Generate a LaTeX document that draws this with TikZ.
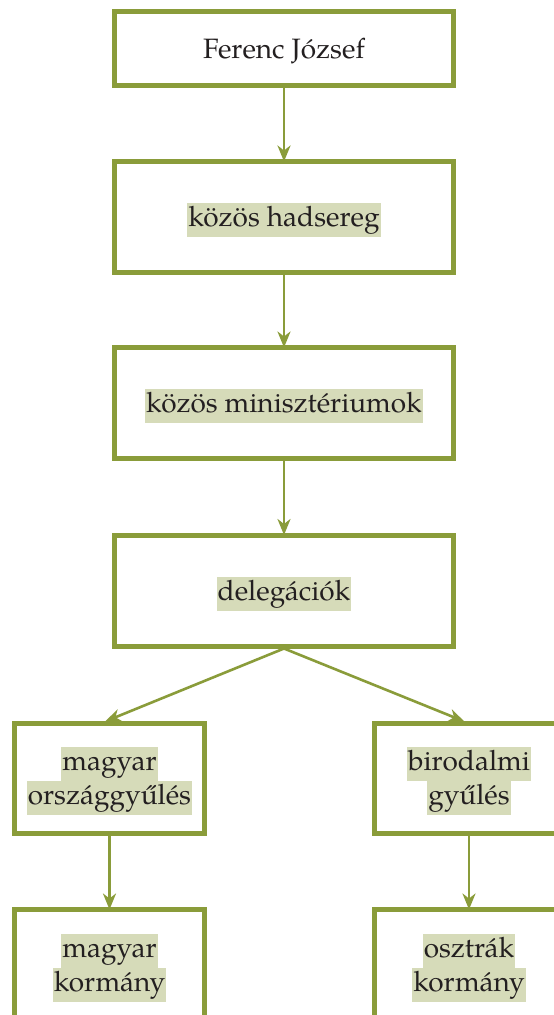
\documentclass[tikz,border=0pt]{standalone}
\usepackage{fontspec}
\setmainfont{TeX Gyre Pagella}
\usetikzlibrary{arrows.meta}
\definecolor{bordc}{HTML}{8A9C3A}
\definecolor{hlc}{HTML}{D6DBB9}
\definecolor{txtc}{HTML}{231F20}
\newcommand{\hlt}[1]{{\setlength{\fboxsep}{0pt}\colorbox{hlc}{\strut\hspace{1pt}#1\hspace{1pt}}}}
\tikzset{
  orgbox/.style={draw=bordc, line width=5pt, fill=white, inner sep=0pt},
  widebox/.style={orgbox, minimum width=339pt, minimum height=111pt},
  smallbox/.style={orgbox, minimum width=190pt, minimum height=110pt},
  boxtext/.style={inner sep=0pt, align=center, text=txtc, font=\fontsize{28}{34}\selectfont},
  conn/.style={draw=bordc, line width=2.6pt, -{Stealth[length=16pt,width=13pt,inset=5pt]}, shorten >=-2.5pt}
}
\begin{document}
\begin{tikzpicture}[x=1pt,y=-1pt]
\clip (0,0) rectangle (554,1015);
\fill[white] (0,0) rectangle (554,1015);
\node[orgbox, minimum width=339pt, minimum height=74pt] (b1) at (284,48.5) {};
\node[widebox] (b2) at (284,217) {};
\node[widebox] (b3) at (284,403) {};
\node[widebox] (b4) at (284,590.5) {};
\node[smallbox] (c1) at (109.5,778) {};
\node[smallbox] (c2) at (469,778) {};
\node[smallbox] (d1) at (109.5,964.5) {};
\node[smallbox] (d2) at (469,964.5) {};
\node[boxtext] (t1) at ([yshift=-3pt]b1.center) {\strut Ferenc József};
\node[boxtext] (t2) at ([yshift=-3pt]b2.center) {\hlt{közös hadsereg}};
\node[boxtext] (t3) at ([yshift=-3pt]b3.center) {\hlt{közös minisztériumok}};
\node[boxtext] (t4) at ([yshift=-3pt]b4.center) {\hlt{delegációk}};
\node[boxtext] (u1) at ([yshift=-3pt]c1.center) {\hlt{magyar}\\\hlt{országgyűlés}};
\node[boxtext] (u2) at ([yshift=-3pt]c2.center) {\hlt{birodalmi}\\\hlt{gyűlés}};
\node[boxtext] (v1) at ([yshift=-3pt]d1.center) {\hlt{magyar}\\\hlt{kormány}};
\node[boxtext] (v2) at ([yshift=-3pt]d2.center) {\hlt{osztrák}\\\hlt{kormány}};
\draw[conn] (b1.south) -- (b2.north);
\draw[conn] (b2.south) -- (b3.north);
\draw[conn] (b3.south) -- (b4.north);
\draw[conn] (b4.south) -- ([xshift=-2pt]c1.north);
\draw[conn] (b4.south) -- ([xshift=-7pt]c2.north);
\draw[conn] (c1.south) -- (d1.north);
\draw[conn] (c2.south) -- (d2.north);
\end{tikzpicture}
\end{document}
